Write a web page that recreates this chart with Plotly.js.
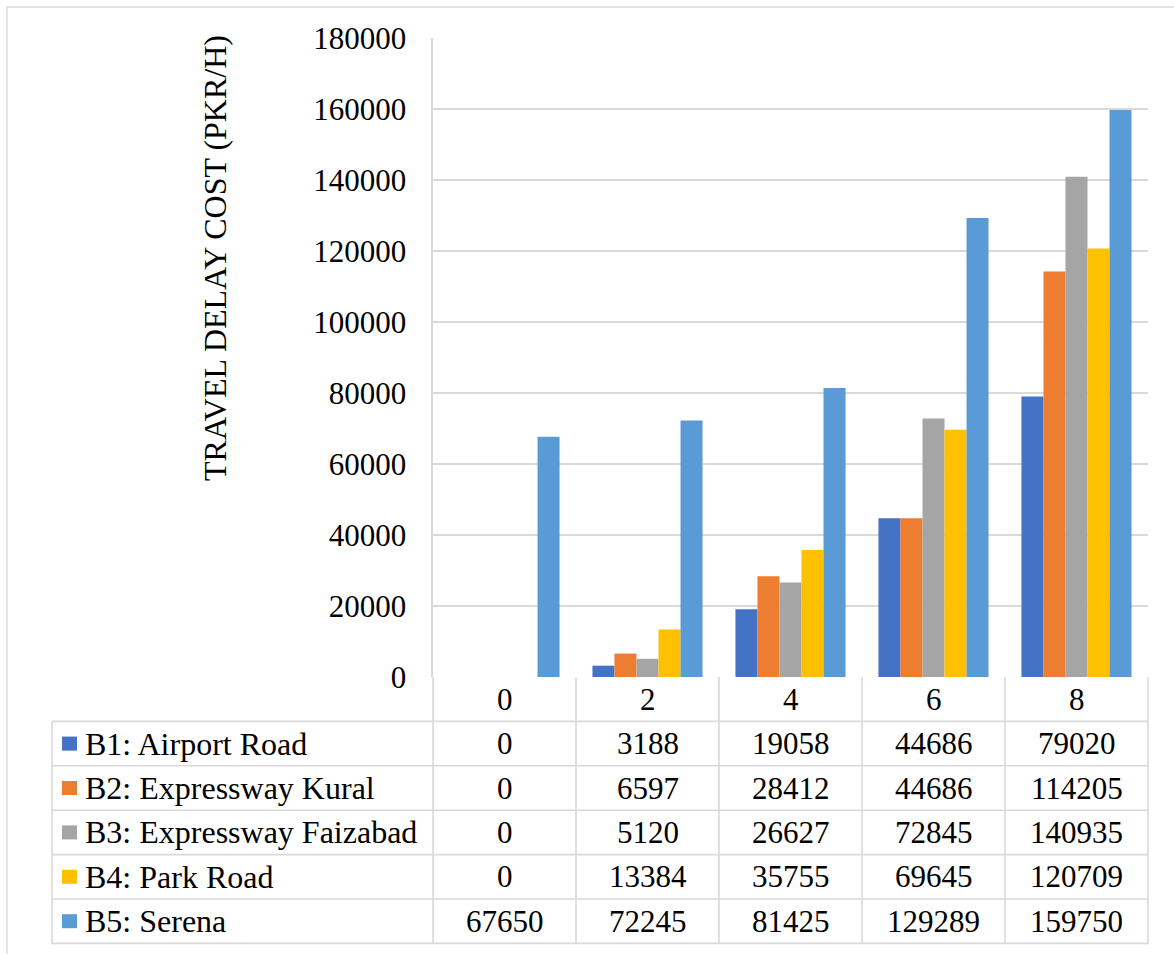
<!DOCTYPE html>
<html>
<head>
<meta charset="utf-8">
<script src="https://cdn.plot.ly/plotly-3.0.1.min.js"></script>
<style>
  html, body { margin: 0; padding: 0; background: #fff; }
  #chart { width: 1174px; height: 954px; }
</style>
</head>
<body>
<div id="chart"></div>
<script>
// Travel delay cost per bottleneck, by period
const periods = ['0', '2', '4', '6', '8'];
const seriesNames = [
  'B1: Airport Road',
  'B2: Expressway Kural',
  'B3: Expressway Faizabad',
  'B4: Park Road',
  'B5: Serena'
];
const airportRoad = [0, 3188, 19058, 44686, 79020];
const expresswayKural = [0, 6597, 28412, 44686, 114205];
const expresswayFaizabad = [0, 5120, 26627, 72845, 140935];
const parkRoad = [0, 13384, 35755, 69645, 120709];
const serena = [67650, 72245, 81425, 129289, 159750];
const seriesColors = ['#4472C4', '#ED7D31', '#A5A5A5', '#FFC000', '#5B9BD5'];
const yTicks = [0, 20000, 40000, 60000, 80000, 100000, 120000, 140000, 160000, 180000];

const seriesValues = [airportRoad, expresswayKural, expresswayFaizabad, parkRoad, serena];

// plot area geometry in page pixels
const W = 1174, H = 954;
const L = 433, R = 1148, T = 38, B = 677;
const px = x => (x - L) / (R - L);
const py = y => (B - y) / (B - T);

const font = 'Liberation Serif, Times New Roman, serif';
const gridColor = '#D9D9D9';
const fs = 31;
const nameSize = 32;

const traces = seriesValues.map((vals, i) => ({
  type: 'bar',
  name: seriesNames[i],
  x: periods,
  y: vals,
  marker: { color: seriesColors[i], line: { width: 0 } },
  hoverinfo: 'skip'
}));

// data table under the plot
const headerTop = 677, rowH = 44.4;
const rowEdges = [];
for (let r = 0; r <= 6; r++) rowEdges.push(headerTop + r * rowH);
const tableLeft = 52;

const shapes = [];
const annotations = [];
const line = { color: gridColor, width: 1.6 };

// outer chart border
shapes.push({ type: 'rect', xref: 'paper', yref: 'paper',
  x0: px(7), x1: px(1190), y0: py(7), y1: py(970),
  line: { color: '#D9D9D9', width: 1.3 }, fillcolor: 'rgba(0,0,0,0)', layer: 'below' });

// horizontal table rules
for (let r = 1; r < rowEdges.length; r++) {
  shapes.push({ type: 'line', xref: 'paper', yref: 'paper',
    x0: px(tableLeft), x1: 1, y0: py(rowEdges[r]), y1: py(rowEdges[r]), line });
}
// vertical table rules at category boundaries
for (let c = 0; c <= periods.length; c++) {
  shapes.push({ type: 'line', xref: 'paper', yref: 'paper',
    x0: c / periods.length, x1: c / periods.length,
    y0: py(rowEdges[0]), y1: py(rowEdges[6]), line });
}
shapes.push({ type: 'line', xref: 'paper', yref: 'paper',
  x0: px(tableLeft), x1: px(tableLeft), y0: py(rowEdges[1]), y1: py(rowEdges[6]), line });

// header row: period labels
periods.forEach((p, j) => {
  annotations.push({ xref: 'x', yref: 'paper', x: j, y: py((rowEdges[0] + rowEdges[1]) / 2),
    text: p, showarrow: false, font: { family: font, size: fs, color: '#000' },
    xanchor: 'center', yanchor: 'middle' });
});

// series rows: legend key, name, values
seriesValues.forEach((vals, i) => {
  const yc = (rowEdges[i + 1] + rowEdges[i + 2]) / 2;
  shapes.push({ type: 'rect', xref: 'paper', yref: 'paper',
    x0: px(62), x1: px(77), y0: py(yc - 7), y1: py(yc + 7),
    fillcolor: seriesColors[i], line: { width: 0 } });
  annotations.push({ xref: 'paper', yref: 'paper', x: px(83), y: py(yc),
    text: seriesNames[i], showarrow: false, font: { family: font, size: nameSize, color: '#000' },
    xanchor: 'left', yanchor: 'middle' });
  vals.forEach((v, j) => {
    annotations.push({ xref: 'x', yref: 'paper', x: j, y: py(yc),
      text: String(v), showarrow: false, font: { family: font, size: fs, color: '#000' },
      xanchor: 'center', yanchor: 'middle' });
  });
});

// vertical value-axis title
annotations.push({ xref: 'paper', yref: 'paper', x: px(215), y: py(258),
  text: 'TRAVEL DELAY COST (PKR/H)', textangle: -90, showarrow: false,
  font: { family: font, size: 32, color: '#000' }, xanchor: 'center', yanchor: 'middle' });

const layout = {
  width: W, height: H,
  margin: { l: L, r: W - R, t: T, b: H - B, pad: 0 },
  paper_bgcolor: '#fff', plot_bgcolor: '#fff',
  showlegend: false,
  barmode: 'group', bargap: 0.23, bargroupgap: 0,
  font: { family: font, size: fs, color: '#000' },
  xaxis: {
    type: 'category', range: [-0.5, 4.5], showticklabels: false,
    showgrid: false, zeroline: false, showline: false, ticks: '', fixedrange: true
  },
  yaxis: {
    range: [0, 180000], tickvals: yTicks, ticktext: yTicks.map(String),
    showgrid: true, gridcolor: gridColor, gridwidth: 1.6,
    zeroline: false, showline: true, linecolor: gridColor, linewidth: 1.6,
    ticks: '', ticklabelstandoff: 19,
    tickfont: { family: font, size: fs, color: '#000' }, fixedrange: true
  },
  shapes, annotations
};

Plotly.newPlot('chart', traces, layout, { displayModeBar: false, staticPlot: true });
</script>
</body>
</html>
